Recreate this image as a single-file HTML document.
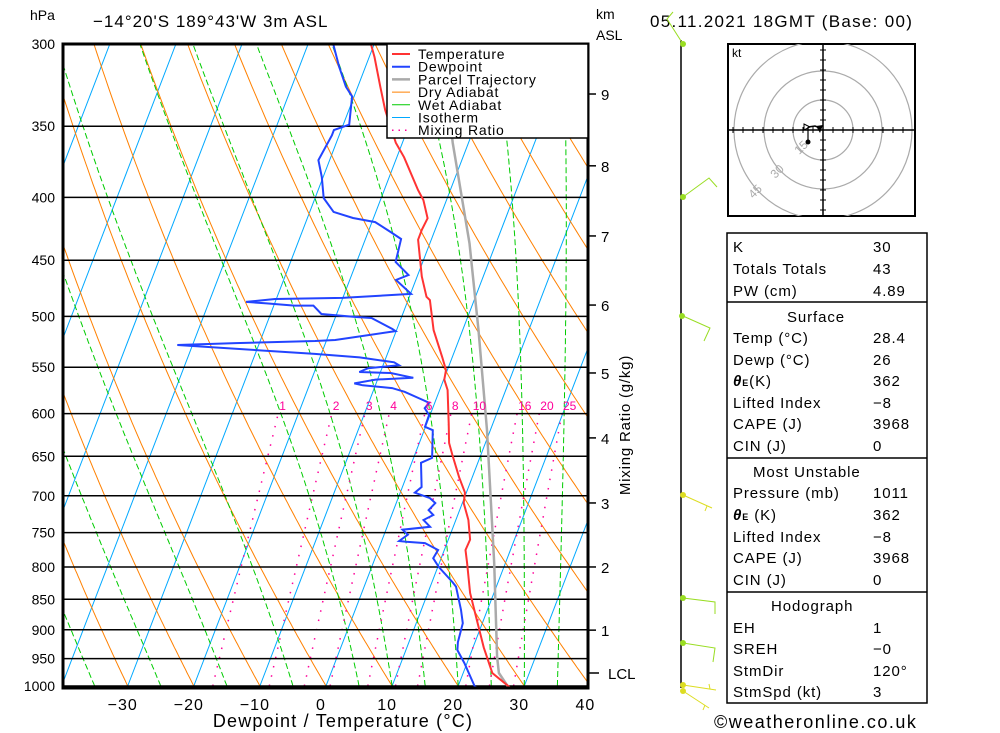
<!DOCTYPE html>
<html><head><meta charset="utf-8"><style>
html,body{margin:0;padding:0;background:#fff;}
svg{display:block;font-family:"Liberation Sans",sans-serif;}
</style></head><body>
<svg id="chart" width="1000" height="733" viewBox="0 0 1000 733" xmlns="http://www.w3.org/2000/svg">
<rect width="1000" height="733" fill="#fff"/>
<defs><clipPath id="plotclip"><rect x="63" y="44" width="525" height="644"/></clipPath></defs>
<g id="bg" clip-path="url(#plotclip)"></g>
<g id="prof" clip-path="url(#plotclip)"></g>
<g id="axes"></g>
<g id="legend">
 <rect x="387" y="44" width="201" height="94" fill="#fff" stroke="#000" stroke-width="1.5"/>
</g>
<g id="side"></g>
</svg>
<script>
// ---- data ----
const tempP=[1011,1002,976,930,884,840,794,775,760,732.5,709.6,696,676,648.5,634,611,574,563,553,540,513,485,482,464,433,425,416,402,394.5,371,361,339.6,325,307.4,300.6];
const tempT=[28.4,27.8,24.4,21.6,19.0,16.4,14.2,13.2,13.3,11.9,10.2,9.8,8.0,5.7,4.5,3.3,1.2,0.1,-0.2,-1.5,-4.4,-6.7,-7.4,-9.3,-12.0,-12.0,-11.8,-13.5,-14.9,-18.9,-21.0,-24.5,-26.6,-29.2,-30.4];
const dewP=[1011,1002,994.5,958,935,921,889,867,830,823,800,787,775,765,763,762,753,746,742,732.5,725.7,719,709.6,703,696,688.6,658,652,619,615,601.5,594,588,585,576,572,569,567,563,561,556,555,551,548,545,540,536.5,527.6,525.7,523.6,522.7,514,512,501.5,500.6,497.8,490,490,488,486.6,484,483,479.4,467,462.7,451.5,432.5,426.8,419,415.8,411,400.5,385,373,356,352.5,349,331,325,313,300.6];
const dewT=[26,22.6,22.1,19.6,17.8,17.4,17.05,16.0,13.9,13.1,10.15,8.8,9.06,6.67,3.75,2.65,3.6,2.5,6.5,5.1,6.3,5.3,5.9,4.8,2.2,2.9,1.4,2.8,1.3,-0.08,-0.15,-1.2,-0.85,-1.9,-5.2,-7.3,-11.9,-13.3,-10.3,-4.7,-8.4,-13.2,-12.1,-7.6,-8.5,-14.0,-21.0,-42.3,-33.6,-21.7,-18.7,-10.1,-10.7,-14.5,-16.9,-22.3,-24.0,-26.9,-31.2,-34.4,-30.2,-20.1,-9.9,-13.0,-11.4,-14.1,-14.6,-16.6,-19.5,-23.1,-26.4,-28.7,-30.2,-31.7,-31.1,-31.1,-29.1,-30.3,-31.8,-34.0,-36.1];
const parcelP=[1011,976,947,794,619,513,436,395,361,330,300];
const parcelT=[28.4,25.4,24.2,18.3,9.5,2.4,-4.0,-8.4,-12.4,-16,-20];
const mixRatios=[1,2,3,4,6,8,10,16,20,25];
const wetThetas=[-35,-25,-15,-5,5,10,15,20,25,30,35];
const pressureTicks=[300,350,400,450,500,550,600,650,700,750,800,850,900,950,1000];
const tempTicks=[-30,-20,-10,0,10,20,30,40];
const kmTicks=[9,8,7,6,5,4,3,2,1];
const kmPress=[329.5,377,430,489.5,556,628,709.5,800,900.6];

// ---- axes functions ----
const NS='http://www.w3.org/2000/svg';
function yP(p){return 44+533.2*Math.log(p/300);}
function xT(T,y){return 326+6.61*T+0.384*(686-y);}
function mk(tag,attrs,parent){const e=document.createElementNS(NS,tag);for(const k in attrs)e.setAttribute(k,attrs[k]);parent.appendChild(e);return e;}
function pathFrom(ps,ts){let d='';for(let i=0;i<ps.length;i++){const y=yP(ps[i]);d+=(i?'L':'M')+xT(ts[i],y).toFixed(1)+' '+y.toFixed(1);}return d;}
const bg=document.getElementById('bg'),prof=document.getElementById('prof'),axes=document.getElementById('axes'),side=document.getElementById('side'),leg=document.getElementById('legend');

// isotherms
for(let T=-130;T<=40;T+=10){
 const l=mk('line',{x1:xT(T,686),y1:686,x2:xT(T,44),y2:44,stroke:'#00a8ff','stroke-width':1},bg);
 
 
}
// dry adiabats
for(let T0=-60;T0<=160;T0+=10){
 const th=T0+273.15;let d='';
 for(let p=1000;p>=295;p-=5){const T=th*Math.pow(p/1000,0.2857)-273.15;const y=yP(p);d+=(p===1000?'M':'L')+xT(T,y).toFixed(1)+' '+y.toFixed(1);}
 const e=mk('path',{d:d,fill:'none',stroke:'#ff8000','stroke-width':1},bg);
 
 
}
// wet adiabats
function es(Tc){return 6.112*Math.exp(17.67*Tc/(Tc+243.5));}
for(const tw of wetThetas){
 let T=tw+273.15,p=1000;let d='M'+xT(tw,yP(1000)).toFixed(1)+' '+yP(1000).toFixed(1);
 while(p>300){
  const e=es(T-273.15),rs=0.622*e/(p-e);
  const dTdp=(287*T+2.5e6*rs)/(p*(1005+2.5e6*2.5e6*rs*0.622/(287*T*T)));
  T-=dTdp*2;p-=2;const y=yP(p);d+='L'+xT(T-273.15,y).toFixed(1)+' '+y.toFixed(1);
 }
 const el=mk('path',{d:d,fill:'none',stroke:'#00cc00','stroke-width':1,'stroke-dasharray':'6,3'},bg);
 
 
}
// mixing ratio
for(const w of mixRatios){
 let d='';let xl=0;
 for(let p=1000;p>=600;p-=10){const e=w*p/(622+w),l=Math.log(e/6.112);const Td=243.5*l/(17.67-l);const y=yP(p);const x=xT(Td,y);d+=(p===1000?'M':'L')+x.toFixed(1)+' '+y.toFixed(1);xl=x;}
 const el=mk('path',{d:d,fill:'none',stroke:'#ff0099','stroke-width':1.5,'stroke-dasharray':'1.5,8'},bg);
 
 
 const t=mk('text',{x:xl+1,y:410,fill:'#ff0099','font-size':12},axes);t.textContent=w;
 
 
}
// pressure lines & labels
for(const p of pressureTicks){
 const y=yP(p);
 const l=mk('line',{x1:63,y1:y,x2:588,y2:y,stroke:'#000','stroke-width':1.5},bg);
 
 
 const t=mk('text',{x:55,y:y+5,'text-anchor':'end','font-size':14},axes);t.textContent=p;
 
 
}
// profiles
let e;
e=mk('path',{d:pathFrom(parcelP,parcelT),fill:'none',stroke:'#aaa','stroke-width':2.5},prof);


e=mk('path',{d:pathFrom(tempP,tempT),fill:'none',stroke:'#ff3333','stroke-width':2},prof);


e=mk('path',{d:pathFrom(dewP,dewT),fill:'none',stroke:'#2244ff','stroke-width':2},prof);


// frame
e=mk('rect',{x:63,y:44,width:525,height:644,fill:'none',stroke:'#000','stroke-width':3},axes);


// x ticks
for(const T of tempTicks){
 const t=mk('text',{x:xT(T,686)-5,y:710,'text-anchor':'middle','font-size':16,'letter-spacing':'1'},axes);t.textContent=(T<0?'\u2212':'')+Math.abs(T);
 
 
}
// km axis
for(let i=0;i<kmTicks.length;i++){
 const y=yP(kmPress[i]);
 if(y>686)continue;
 const l=mk('line',{x1:588,y1:y,x2:596,y2:y,stroke:'#000','stroke-width':1.5},axes);
 
 
 const t=mk('text',{x:601,y:y+6,'font-size':15},axes);t.textContent=kmTicks[i];
 
 
}
// legend
const legItems=[['Temperature','#ff3333',2,''],['Dewpoint','#2244ff',2,''],['Parcel Trajectory','#aaa',2.5,''],['Dry Adiabat','#ff8000',1,''],['Wet Adiabat','#00cc00',1,''],['Isotherm','#00a8ff',1,''],['Mixing Ratio','#ff0099',1.5,'1.5,5']];
legItems.forEach((it,i)=>{
 const y=54+i*12.7;
 const l=mk('line',{x1:392,y1:y,x2:410,y2:y,stroke:it[1],'stroke-width':it[2],'stroke-dasharray':it[3]||'none'},leg);
 
 
 const t=mk('text',{x:418,y:y+5,'font-size':14,'letter-spacing':'0.8'},leg);t.textContent=it[0];
 
 
});
</script>
<svg x="0" y="0" width="1000" height="733" style="position:absolute;left:0;top:0">
<g font-family="Liberation Sans, sans-serif" fill="#000">
<text x="30" y="20" font-size="14">hPa</text>
<text x="93" y="27" font-size="17" letter-spacing="1">−14°20'S 189°43'W 3m ASL</text>
<text x="596" y="19" font-size="14">km</text>
<text x="596" y="40" font-size="14">ASL</text>
<text x="650" y="27" font-size="17" letter-spacing="1.3">05.11.2021 18GMT (Base: 00)</text>
<line x1="588" y1="673" x2="599" y2="673" stroke="#000" stroke-width="1.5"/>
<text x="608" y="679" font-size="15">LCL</text>
<text x="630" y="425" font-size="15" text-anchor="middle" transform="rotate(-90 630 425)" letter-spacing="0.8">Mixing Ratio (g/kg)</text>
<text x="343" y="727" font-size="18" text-anchor="middle" letter-spacing="1.2">Dewpoint / Temperature (°C)</text>
</g>
<!-- wind barbs -->
<g fill="none" stroke-width="1">
<line x1="681" y1="40" x2="681" y2="688" stroke="#000" stroke-width="1.5"/>
<g stroke="#99dd22"><polyline points="683,44 667,19 673,12"/><polyline points="683,197 709,178 717,187"/><polyline points="683,316 710,328 704,341"/><polyline points="683,598 715,602 715,614"/><polyline points="683,643 715,648 713,662"/></g>
<g stroke="#dddd22"><polyline points="683,495 712,508"/><line x1="707" y1="506" x2="705" y2="511"/><polyline points="683,685 716,690"/><line x1="710" y1="689" x2="709" y2="684"/><polyline points="683,691 709,708"/><line x1="705" y1="705" x2="703" y2="710"/></g>
<g fill="#99dd22" stroke="none"><circle cx="683" cy="44" r="3"/><circle cx="683" cy="197" r="3"/><circle cx="682" cy="316" r="3"/><circle cx="683" cy="598" r="3"/><circle cx="683" cy="643" r="3"/></g>
<g fill="#dddd22" stroke="none"><circle cx="683" cy="495" r="3"/><circle cx="683" cy="685" r="3"/><circle cx="683" cy="691" r="3"/></g>
</g>
<!-- hodograph -->
<g>
<rect x="728" y="44" width="187" height="172" fill="#fff" stroke="#000" stroke-width="2"/>
<clipPath id="hc"><rect x="728" y="44" width="187" height="172"/></clipPath>
<g clip-path="url(#hc)" fill="none" stroke="#aaa" stroke-width="1.2"><circle cx="823" cy="130" r="30"/><circle cx="823" cy="130" r="59"/><circle cx="823" cy="130" r="89"/></g>
<line x1="728" y1="130" x2="915" y2="130" stroke="#000" stroke-width="1.5"/>
<line x1="823" y1="44" x2="823" y2="216" stroke="#000" stroke-width="1.5"/>
<g stroke="#000" stroke-width="1"><path d="M733 127v6M743 127v6M753 127v6M763 127v6M773 127v6M783 127v6M793 127v6M803 127v6M813 127v6M833 127v6M843 127v6M853 127v6M863 127v6M873 127v6M883 127v6M893 127v6M903 127v6M820 50h6M820 60h6M820 70h6M820 80h6M820 90h6M820 100h6M820 110h6M820 120h6M820 140h6M820 150h6M820 160h6M820 170h6M820 180h6M820 190h6M820 200h6M820 210h6"/></g>
<g fill="#aaa" font-size="12" font-family="Liberation Sans, sans-serif"><text x="796" y="153" transform="rotate(-45 800 150)">15</text><text x="772" y="177" transform="rotate(-45 776 174)">30</text><text x="750" y="197" transform="rotate(-45 754 194)">45</text></g>
<text x="732" y="57" font-size="12" font-family="Liberation Sans, sans-serif">kt</text>
<line x1="808" y1="127" x2="808" y2="142" stroke="#000" stroke-width="1.2"/>
<circle cx="808" cy="142" r="2.5" fill="#000"/>
<polyline points="808,127 815,126 820,128" fill="none" stroke="#000" stroke-width="1.5"/>
<polygon points="816,126 823,125 820,133" fill="#000"/>
<polygon points="804,124 810,127 804,130" fill="none" stroke="#000"/>
</g>
<!-- stats table -->
<g font-family="Liberation Sans, sans-serif" font-size="15" letter-spacing="0.9">
<rect x="727" y="233" width="200" height="470" fill="none" stroke="#000" stroke-width="1.5"/>
<line x1="727" y1="302" x2="927" y2="302" stroke="#000" stroke-width="1.5"/>
<line x1="727" y1="458" x2="927" y2="458" stroke="#000" stroke-width="1.5"/>
<line x1="727" y1="592" x2="927" y2="592" stroke="#000" stroke-width="1.5"/>
<text x="733" y="252">K</text><text x="873" y="252">30</text>
<text x="733" y="274">Totals Totals</text><text x="873" y="274">43</text>
<text x="733" y="296">PW (cm)</text><text x="873" y="296">4.89</text>
<text x="787" y="322">Surface</text>
<text x="733" y="343">Temp (°C)</text><text x="873" y="343">28.4</text>
<text x="733" y="365">Dewp (°C)</text><text x="873" y="365">26</text>
<text x="733" y="386" font-style="italic" font-weight="bold">θ<tspan font-size="9" font-style="normal">E</tspan><tspan font-weight="normal" font-style="normal">(K)</tspan></text><text x="873" y="386">362</text>
<text x="733" y="408">Lifted Index</text><text x="873" y="408">−8</text>
<text x="733" y="429">CAPE (J)</text><text x="873" y="429">3968</text>
<text x="733" y="451">CIN (J)</text><text x="873" y="451">0</text>
<text x="753" y="477">Most Unstable</text>
<text x="733" y="498">Pressure (mb)</text><text x="873" y="498">1011</text>
<text x="733" y="520" font-style="italic" font-weight="bold">θ<tspan font-size="9" font-style="normal">E</tspan><tspan font-weight="normal" font-style="normal"> (K)</tspan></text><text x="873" y="520">362</text>
<text x="733" y="542">Lifted Index</text><text x="873" y="542">−8</text>
<text x="733" y="563">CAPE (J)</text><text x="873" y="563">3968</text>
<text x="733" y="585">CIN (J)</text><text x="873" y="585">0</text>
<text x="771" y="611">Hodograph</text>
<text x="733" y="633">EH</text><text x="873" y="633">1</text>
<text x="733" y="654">SREH</text><text x="873" y="654">−0</text>
<text x="733" y="676">StmDir</text><text x="873" y="676">120°</text>
<text x="733" y="697">StmSpd (kt)</text><text x="873" y="697">3</text>
</g>
<text x="714" y="728" font-size="18" letter-spacing="1.5" font-family="Liberation Sans, sans-serif">©weatheronline.co.uk</text>
</svg>
</body></html>
